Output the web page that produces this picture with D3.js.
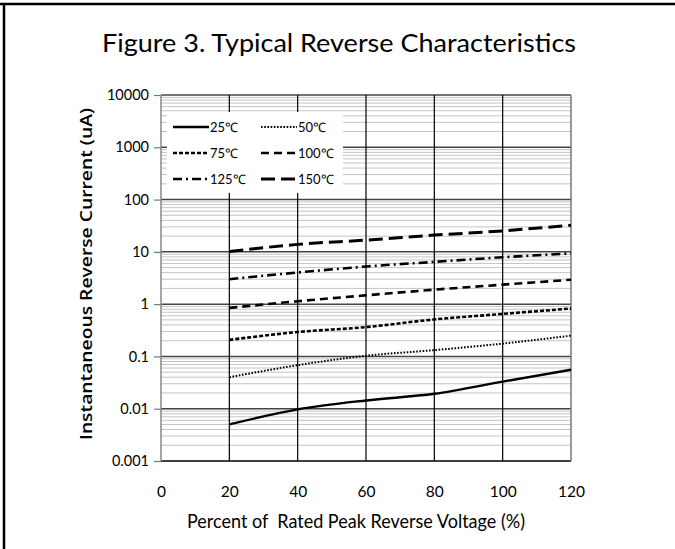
<!DOCTYPE html>
<html><head><meta charset="utf-8">
<script src="https://cdn.jsdelivr.net/npm/d3@7"></script>
<style>body{margin:0;background:#fff}svg{display:block}</style>
</head><body>
<svg id="c" width="675" height="549"></svg>
<script>
const xValues = [20, 40, 60, 80, 100, 120];
const seriesNames = ["25℃", "50℃", "75℃", "100℃", "125℃", "150℃"];
const s25  = [0.005, 0.0097, 0.0144, 0.0193, 0.033, 0.0557];
const s50  = [0.040, 0.068, 0.103, 0.132, 0.176, 0.25];
const s75  = [0.207, 0.293, 0.364, 0.51, 0.65, 0.825];
const s100 = [0.847, 1.135, 1.475, 1.89, 2.36, 2.93];
const s125 = [3.0, 4.03, 5.24, 6.43, 7.87, 9.35];
const s150 = [10.1, 13.9, 16.8, 20.9, 25.2, 32.4];
const xTicks = [0, 20, 40, 60, 80, 100, 120];
const yTicks = [0.001, 0.01, 0.1, 1, 10, 100, 1000, 10000];
const yTickLabels = ["0.001", "0.01", "0.1", "1", "10", "100", "1000", "10000"];
const titleText = "Figure 3. Typical Reverse Characteristics";
const xTitle = "Percent of  Rated Peak Reverse Voltage (%)";
const yTitle = "Instantaneous Reverse Current (uA)";

const allSeries = [s25, s50, s75, s100, s125, s150];
const styles = [
  {dash: null, w: 2.4},
  {dash: "1.6,1.6", w: 2},
  {dash: "4,2", w: 2.6},
  {dash: "8,5", w: 2.6},
  {dash: "9,4,2,4", w: 2.6},
  {dash: "14,6", w: 3}
];

const svg = d3.select("#c");
const L = 161, R = 571, T = 95, B = 461;
const x = d3.scaleLinear().domain([0, 120]).range([L, R]);
const y = d3.scaleLog().domain([0.001, 10000]).range([B, T]);

// outer frame
svg.append("line").attr("x1", 0).attr("x2", 675).attr("y1", 4).attr("y2", 4).attr("stroke", "#000").attr("stroke-width", 2.5);
svg.append("line").attr("x1", 4).attr("x2", 4).attr("y1", 3).attr("y2", 549).attr("stroke", "#000").attr("stroke-width", 2.5);

// title
svg.append("text").attr("x", 339).attr("y", 52).attr("text-anchor", "middle")
  .attr("font-family", "Lato").attr("font-size", 25)
  .attr("textLength", 474).attr("lengthAdjust", "spacingAndGlyphs")
  .attr("fill", "#000").text(titleText);

const g = svg.append("g");
// minor horizontal grid
const minors = [];
for (let d = -3; d < 4; d++) for (let m = 2; m <= 9; m++) minors.push(m * Math.pow(10, d));
g.selectAll(".minor").data(minors).enter().append("line")
  .attr("x1", L).attr("x2", R).attr("y1", d => y(d)).attr("y2", d => y(d))
  .attr("stroke", "#c4c4c4").attr("stroke-width", 1);
// major horizontal grid
g.selectAll(".major").data(yTicks).enter().append("line")
  .attr("x1", L).attr("x2", R).attr("y1", d => y(d)).attr("y2", d => y(d))
  .attr("stroke", d => d === 0.001 ? "#000" : "#444").attr("stroke-width", 1.5);
// vertical grid
g.selectAll(".vg").data(xTicks.filter(d => d > 0 && d < 120)).enter().append("line")
  .attr("x1", d => x(d)).attr("x2", d => x(d)).attr("y1", T).attr("y2", B)
  .attr("stroke", "#000").attr("stroke-width", 1.2);
// frame of plot
g.append("line").attr("x1", L).attr("x2", L).attr("y1", T).attr("y2", B).attr("stroke", "#888").attr("stroke-width", 1.5);
g.append("line").attr("x1", R).attr("x2", R).attr("y1", T).attr("y2", B).attr("stroke", "#777").attr("stroke-width", 1.5);

// y axis ticks & labels
const yAxis = d3.axisLeft(y).tickValues(yTicks).tickSize(7).tickPadding(5)
  .tickFormat((d, i) => yTickLabels[i]);
const ya = svg.append("g").attr("transform", `translate(${L},0)`).call(yAxis);
ya.select(".domain").remove();
ya.selectAll(".tick line").attr("stroke", "#777").attr("stroke-width", 1.2);
ya.selectAll(".tick text").attr("font-family", "Lato").attr("font-size", 14.5).attr("fill", "#000");

// x axis labels
const xAxis = d3.axisBottom(x).tickValues(xTicks).tickSize(0).tickPadding(25);
const xa = svg.append("g").attr("transform", `translate(0,${B})`).call(xAxis);
xa.select(".domain").remove();
xa.selectAll(".tick text").attr("font-family", "Lato").attr("font-size", 15.5).attr("fill", "#000");

// axis titles
svg.append("text").attr("x", 356).attr("y", 528).attr("text-anchor", "middle")
  .attr("font-family", "Lato").attr("font-size", 19)
  .style("white-space", "pre").attr("xml:space", "preserve")
  .attr("textLength", 338).attr("lengthAdjust", "spacingAndGlyphs")
  .attr("fill", "#000").text(xTitle);
svg.append("text").attr("transform", "translate(92,274) rotate(-90)").attr("text-anchor", "middle")
  .attr("font-family", "Open Sans").attr("font-size", 16).attr("font-weight", 600)
  .attr("textLength", 332).attr("lengthAdjust", "spacingAndGlyphs")
  .attr("fill", "#000").text(yTitle);

// legend
const lg = svg.append("g");
lg.append("rect").attr("x", 167).attr("y", 112).attr("width", 176).attr("height", 81).attr("fill", "#fff");
const rowsY = [127, 153, 179];
seriesNames.forEach((name, i) => {
  const col = i % 2, row = Math.floor(i / 2);
  const x0 = col === 0 ? 173 : 261, x1 = x0 + 36;
  const yy = rowsY[row];
  const ln = lg.append("line").attr("x1", x0).attr("x2", x1).attr("y1", yy).attr("y2", yy)
    .attr("stroke", "#000").attr("stroke-width", styles[i].w);
  if (styles[i].dash) ln.attr("stroke-dasharray", styles[i].dash);
  lg.append("text").attr("x", x1 + 1).attr("y", yy + 5).attr("font-family", "Lato")
    .attr("font-size", 13).attr("fill", "#000").text(name);
});

// data lines
const line = d3.line().x((d, i) => x(xValues[i])).y(d => y(d)).curve(d3.curveMonotoneX);
allSeries.forEach((s, i) => {
  const p = svg.append("path").attr("d", line(s)).attr("fill", "none")
    .attr("stroke", "#000").attr("stroke-width", styles[i].w);
  if (styles[i].dash) p.attr("stroke-dasharray", styles[i].dash);
});
</script>
</body></html>
